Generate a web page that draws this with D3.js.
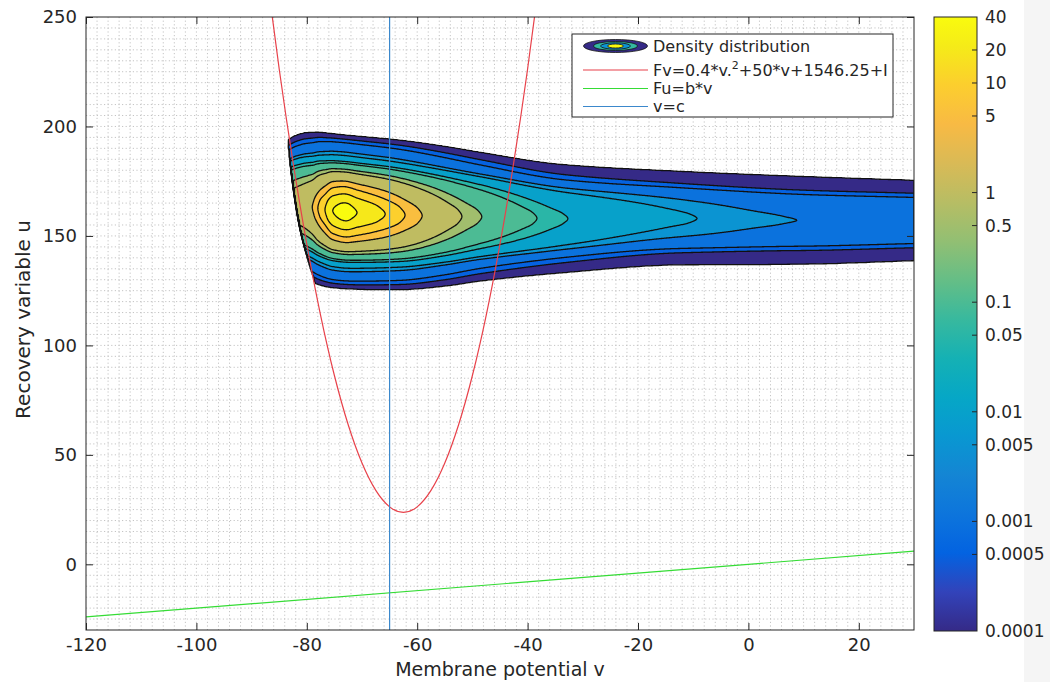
<!DOCTYPE html>
<html>
<head>
<meta charset="utf-8">
<script src="https://cdn.jsdelivr.net/npm/d3@7"></script>
<style>
  body { margin: 0; background: #fff; }
  svg { display: block; }
  text { font-family: "DejaVu Sans", "Liberation Sans", Arial, sans-serif; fill: #262626; }
</style>
</head>
<body>
<svg id="chart" width="1050" height="682"></svg>
<script>
// ---------- data ----------
const xTicks = [-120, -100, -80, -60, -40, -20, 0, 20];
const yTicks = [0, 50, 100, 150, 200, 250];
const cbarTicks = [0.0001, 0.0005, 0.001, 0.005, 0.01, 0.05, 0.1, 0.5, 1, 5, 10, 20, 40];
const cbarTickLabels = ["0.0001", "0.0005", "0.001", "0.005", "0.01", "0.05", "0.1", "0.5", "1", "5", "10", "20", "40"];
const contourLevels = [0.0001, 0.0005, 0.001, 0.005, 0.01, 0.05, 0.1, 0.5, 1, 5, 10, 20, 40];

// v-nullcline Fv (sampled)
const fvV = [-87.5, -85, -82.5, -80, -77.5, -75, -72.5, -70, -67.5, -65, -62.5, -60, -57.5, -55, -52.5, -50, -47.5, -45, -42.5, -40, -37.5];
const fvU = [273.75, 226.25, 183.75, 146.25, 113.75, 86.25, 63.75, 46.25, 33.75, 26.25, 23.75, 26.25, 33.75, 46.25, 63.75, 86.25, 113.75, 146.25, 183.75, 226.25, 273.75];
// u-nullcline Fu = b*v
const fuV = [-120, 30];
const fuU = [-24, 6];
// reset potential v = c
const resetV = -65;

// density: log10 of the ridge value along v
const ridgeV = [-85, -81, -79, -78, -76.7, -75.3, -73, -70.9, -65.8, -62.2, -59.1, -51.9, -48.3, -38.3, -32.7, -9.3, 8.8, 30];
const ridgeLog = [0.2, 0.45, 0.7, 1.0, 1.301, 1.602, 1.72, 1.602, 1.301, 1.0, 0.699, 0, -0.301, -1, -1.301, -2, -2.301, -2.38];
// outer (1e-4) boundary of the density band
const bandV = [-84, -82, -80, -78, -76, -73, -70, -63, -55, -48.6, -34.1, -12.4, 9.3, 30];
const bandTop = [193, 196, 197.3, 197.5, 197, 196.2, 195.5, 193.8, 191, 188.3, 182.8, 179.6, 177.3, 175.5];
const bandBottom = [134, 132, 130, 127.8, 126.5, 125.8, 125.5, 125.4, 127, 129.3, 133, 136.7, 137, 138.6];
// left cut-off edge of the density (v as a function of u)
const edgeU = [120, 129, 136.6, 154.8, 185.5, 197, 205];
const edgeV = [-78.0, -78.6, -79.5, -81.3, -83.1, -83.6, -83.9];
// cross-section: normalised distance from ridge -> fraction of log drop
const profileX = [0, 0.1, 0.2, 0.3, 0.4, 0.5, 0.6, 0.7, 0.8, 0.9, 0.95, 1];
const profileF = [0, 0.016, 0.058, 0.11, 0.18, 0.28, 0.43, 0.61, 0.73, 0.83, 0.89, 1];

// parula colormap
const parulaColors = ["#352a87", "#3243ba", "#0363e1", "#0d75dc", "#1485d4", "#0998d1", "#06a7c6", "#15b1b4", "#38b99e", "#65be86", "#92bf73", "#b7bd64", "#d9ba56", "#f8ba44", "#fcce2e", "#f5eb18", "#f9fb0e"];
const parulaIdx = [0, 4, 8, 12, 16, 20, 24, 28, 32, 36, 40, 44, 48, 52, 56, 60, 63];

// ---------- layout ----------
const svg = d3.select("#chart");
const W = 1050, H = 682;
const plot = { left: 86, right: 914, top: 17, bottom: 630 };
const x = d3.scaleLinear().domain([-120, 30]).range([plot.left, plot.right]);
const y = d3.scaleLinear().domain([-30, 250]).range([plot.bottom, plot.top]);
const cbar = { left: 934, right: 977, top: 17, bottom: 631 };
const cy = d3.scaleLog().domain([1e-4, 40]).range([cbar.bottom, cbar.top]);
const logMin = Math.log10(1e-4), logMax = Math.log10(40);
const parula = d3.scaleLinear().domain(parulaIdx.map(i => i / 63)).range(parulaColors).interpolate(d3.interpolateRgb).clamp(true);
const colorOfLog = l => parula((l - logMin) / (logMax - logMin));

svg.append("rect").attr("width", W).attr("height", H).attr("fill", "#fff");
svg.append("rect").attr("x", 1024).attr("width", W - 1024).attr("height", H).attr("fill", "#f5f5f5");

const defs = svg.append("defs");
defs.append("clipPath").attr("id", "plotClip").append("rect")
  .attr("x", plot.left).attr("y", plot.top)
  .attr("width", plot.right - plot.left).attr("height", plot.bottom - plot.top);

// ---------- grid ----------
const grid = svg.append("g").attr("clip-path", "url(#plotClip)")
  .attr("stroke", "#c4c4c4").attr("stroke-width", 1).attr("stroke-dasharray", "1.2,2.4");
grid.selectAll("line.gx").data(d3.range(-118, 30, 2)).join("line")
  .attr("x1", d => x(d)).attr("x2", d => x(d)).attr("y1", plot.top).attr("y2", plot.bottom);
grid.selectAll("line.gy").data(d3.range(-25, 250, 5)).join("line")
  .attr("y1", d => y(d)).attr("y2", d => y(d)).attr("x1", plot.left).attr("x2", plot.right);

// ---------- density field ----------
// monotone cubic interpolation; flatStart forces a zero slope at the first knot
function monotone(xs, ys, flatStart) {
  const n = xs.length, dx = [], m = [], t = new Array(n);
  for (let i = 0; i < n - 1; i++) { dx[i] = xs[i + 1] - xs[i]; m[i] = (ys[i + 1] - ys[i]) / dx[i]; }
  t[0] = flatStart ? 0 : m[0]; t[n - 1] = m[n - 2];
  for (let i = 1; i < n - 1; i++) {
    if (m[i - 1] * m[i] <= 0) t[i] = 0;
    else {
      const w1 = 2 * dx[i] + dx[i - 1], w2 = dx[i] + 2 * dx[i - 1];
      t[i] = (w1 + w2) / (w1 / m[i - 1] + w2 / m[i]);
    }
  }
  return xv => {
    if (xv <= xs[0]) return ys[0];
    if (xv >= xs[n - 1]) return ys[n - 1];
    const i = Math.min(n - 2, d3.bisectRight(xs, xv) - 1);
    const h = dx[i], s = (xv - xs[i]) / h, s2 = s * s, s3 = s2 * s;
    return (2 * s3 - 3 * s2 + 1) * ys[i] + (s3 - 2 * s2 + s) * h * t[i]
      + (-2 * s3 + 3 * s2) * ys[i + 1] + (s3 - s2) * h * t[i + 1];
  };
}
const ridgeAt = monotone(ridgeV, ridgeLog);
const topAt = monotone(bandV, bandTop);
const botAt = monotone(bandV, bandBottom);
const edgeAt = monotone(edgeU, edgeV);
const profileAt = monotone(profileX, profileF, true);

function logDensity(v, u) {
  const R = ridgeAt(v);
  const top = topAt(v), bot = botAt(v);
  const c = (top + bot) / 2, h = (top - bot) / 2;
  const drop = R - logMin;
  const r = Math.abs(u - c) / h;
  const f = r <= 1 ? profileAt(r) : 1 + 8 * (r - 1);
  let lp = R - drop * f;
  const e = edgeAt(u);
  if (v < e) lp -= 40 * (e - v);
  return lp;
}

const step = 1;
const gxEnd = x(30), gxBegin = x(-86);
const nx = Math.round((gxEnd - gxBegin) / step);
const gx0 = gxEnd - nx * step;
const gy0 = y(207), gy1 = y(113);
const ny = Math.round((gy1 - gy0) / step);
const field = new Float64Array(nx * ny);
for (let j = 0; j < ny; j++) {
  const u = y.invert(gy0 + (j + 0.5) * step);
  for (let i = 0; i < nx; i++) {
    const v = x.invert(gx0 + (i + 0.5) * step);
    field[j * nx + i] = logDensity(v, u);
  }
}
const logLevels = contourLevels.map(d => Math.log10(d));
const contours = d3.contours().size([nx, ny]).thresholds(logLevels)(Array.from(field));
const toPixels = d3.geoPath(d3.geoIdentity().scale(step).translate([gx0, gy0]));

svg.append("g").attr("clip-path", "url(#plotClip)")
  .selectAll("path").data(contours).join("path")
  .attr("d", toPixels)
  .attr("fill", d => colorOfLog(d.value))
  .attr("stroke", "#111").attr("stroke-width", 1.3).attr("stroke-linejoin", "round");

// ---------- nullclines and reset line ----------
const lines = svg.append("g").attr("clip-path", "url(#plotClip)").attr("fill", "none");
const fvLine = d3.line().x((d, i) => x(fvV[i])).y((d, i) => y(fvU[i])).curve(d3.curveNatural);
lines.append("path").attr("d", fvLine(fvV)).attr("stroke", "#e8414a").attr("stroke-width", 1.2);
const fuLine = d3.line().x((d, i) => x(fuV[i])).y((d, i) => y(fuU[i]));
lines.append("path").attr("d", fuLine(fuV)).attr("stroke", "#35dc35").attr("stroke-width", 1.2);
lines.append("line").attr("x1", x(resetV)).attr("x2", x(resetV))
  .attr("y1", plot.top).attr("y2", plot.bottom).attr("stroke", "#3b88cc").attr("stroke-width", 1.2);

// ---------- axes ----------
const axisColor = "#262626";
function styleAxis(g) {
  g.select(".domain").remove();
  g.selectAll(".tick line").attr("stroke", axisColor).attr("stroke-width", 1);
  g.selectAll(".tick text").attr("fill", axisColor).style("font-size", "18px")
    .style("font-family", "'DejaVu Sans', 'Liberation Sans', Arial, sans-serif");
}
const fmt = d => String(d);
svg.append("g").attr("transform", `translate(0,${plot.bottom})`)
  .call(d3.axisBottom(x).tickValues(xTicks).tickFormat(fmt).tickSizeInner(-7).tickSizeOuter(0).tickPadding(8))
  .call(styleAxis);
svg.append("g").attr("transform", `translate(0,${plot.top})`)
  .call(d3.axisTop(x).tickValues(xTicks).tickFormat("").tickSizeInner(-7).tickSizeOuter(0))
  .call(styleAxis);
svg.append("g").attr("transform", `translate(${plot.left},0)`)
  .call(d3.axisLeft(y).tickValues(yTicks).tickFormat(fmt).tickSizeInner(-7).tickSizeOuter(0).tickPadding(9))
  .call(styleAxis);
svg.append("g").attr("transform", `translate(${plot.right},0)`)
  .call(d3.axisRight(y).tickValues(yTicks).tickFormat("").tickSizeInner(-7).tickSizeOuter(0))
  .call(styleAxis);
svg.append("rect").attr("x", plot.left).attr("y", plot.top)
  .attr("width", plot.right - plot.left).attr("height", plot.bottom - plot.top)
  .attr("fill", "none").attr("stroke", axisColor).attr("stroke-width", 1);

svg.append("text").attr("x", (plot.left + plot.right) / 2).attr("y", 676)
  .attr("text-anchor", "middle").style("font-size", "19px").text("Membrane potential v");
svg.append("text").attr("transform", `translate(30,${(plot.top + plot.bottom) / 2 - 4}) rotate(-90)`)
  .attr("text-anchor", "middle").style("font-size", "20px").text("Recovery variable u");

// ---------- colorbar ----------
const grad = defs.append("linearGradient").attr("id", "parulaGrad")
  .attr("x1", 0).attr("x2", 0).attr("y1", 1).attr("y2", 0);
grad.selectAll("stop").data(parulaIdx).join("stop")
  .attr("offset", d => d / 63).attr("stop-color", (d, i) => parulaColors[i]);
svg.append("rect").attr("x", cbar.left).attr("y", cbar.top)
  .attr("width", cbar.right - cbar.left).attr("height", cbar.bottom - cbar.top)
  .attr("fill", "url(#parulaGrad)").attr("stroke", axisColor).attr("stroke-width", 1);
const cb = svg.append("g");
cb.selectAll("line").data(cbarTicks.slice(1, -1)).join("line")
  .attr("x1", cbar.right - 5).attr("x2", cbar.right)
  .attr("y1", d => cy(d)).attr("y2", d => cy(d))
  .attr("stroke", axisColor).attr("stroke-width", 1);
cb.selectAll("text").data(cbarTicks).join("text")
  .attr("x", 985).attr("y", d => cy(d)).attr("dy", "0.35em")
  .style("font-size", "17px").text((d, i) => cbarTickLabels[i]);

// ---------- legend ----------
const lg = svg.append("g");
lg.append("rect").attr("x", 572).attr("y", 34).attr("width", 321).attr("height", 83)
  .attr("fill", "#fff").attr("stroke", axisColor).attr("stroke-width", 1);
const iconX0 = 583, iconX1 = 648, iconCx = (iconX0 + iconX1) / 2, textX = 653;
[[32, 6.5, 0], [22, 4.5, 0.5], [15, 3.2, 0.3], [8, 2, 1]].forEach(([rx, ry, t]) => {
  lg.append("ellipse").attr("cx", iconCx).attr("cy", 46).attr("rx", rx).attr("ry", ry)
    .attr("fill", parula(t)).attr("stroke", "#141414").attr("stroke-width", 0.8);
});
lg.append("text").attr("x", textX).attr("y", 46).attr("dy", "0.35em").style("font-size", "16px").text("Density distribution");
const legendLines = [
  { y: 70, color: "#e8414a" },
  { y: 88.5, color: "#35dc35" },
  { y: 106.5, color: "#3b88cc" }
];
lg.selectAll("line.leg").data(legendLines).join("line")
  .attr("x1", iconX0).attr("x2", iconX1).attr("y1", d => d.y).attr("y2", d => d.y)
  .attr("stroke", d => d.color).attr("stroke-width", 1.2);
const fvText = lg.append("text").attr("x", textX).attr("y", 70).attr("dy", "0.35em").style("font-size", "16px");
fvText.append("tspan").text("Fv=0.4*v.");
fvText.append("tspan").attr("dy", "-7").style("font-size", "11px").text("2");
fvText.append("tspan").attr("dy", "7").text("+50*v+1546.25+I");
lg.append("text").attr("x", textX).attr("y", 88.5).attr("dy", "0.35em").style("font-size", "16px").text("Fu=b*v");
lg.append("text").attr("x", textX).attr("y", 106.5).attr("dy", "0.35em").style("font-size", "16px").text("v=c");
</script>
</body>
</html>
